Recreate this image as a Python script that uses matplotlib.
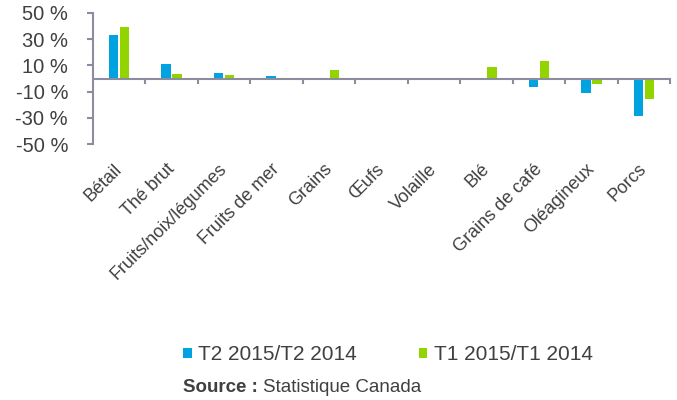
import matplotlib
matplotlib.use("Agg")
import matplotlib.pyplot as plt
import numpy as np

categories = ["Bétail", "Thé brut", "Fruits/noix/légumes", "Fruits de mer", "Grains",
              "Œufs", "Volaille", "Blé", "Grains de café", "Oléagineux", "Porcs"]
t2_2015 = [33, 11, 4, 2, 0, 0, -1.5, -1.5, -6.5, -11, -28.5]
t1_2015 = [39.5, 3.5, 2.3, 0.3, 6.5, -0.5, 0.3, 9, 13, -4.5, -15.5]
yticks = [50, 30, 10, -10, -30, -50]
ytick_labels = ["50 %", "30 %", "10 %", "-10 %", "-30 %", "-50 %"]

plt.rcParams['font.family'] = ['Liberation Sans', 'DejaVu Sans']
txt = "#404040"
axc = "#8c8ca0"
blue = "#00a3e0"
green = "#92d400"

fig = plt.figure(figsize=(6.77, 4.0), dpi=100)
ax = fig.add_axes([93/677, 1-144/400, (670-93)/677, (144-13)/400])

x = np.arange(len(categories))
w = 0.18
ax.bar(x - 0.105, t2_2015, width=w, color=blue, label="T2 2015/T2 2014", zorder=2)
ax.bar(x + 0.105, t1_2015, width=w, color=green, label="T1 2015/T1 2014", zorder=2)

ax.set_xlim(-0.5, len(categories) - 0.5)
ax.set_ylim(-50, 50)
ax.set_yticks(yticks)
ax.set_yticklabels(ytick_labels, fontsize=14.5, color=txt)

for s in ["top", "right", "bottom"]:
    ax.spines[s].set_visible(False)
ax.spines["left"].set_color(axc)
ax.spines["left"].set_linewidth(1.5)
ax.axhline(0, color=axc, lw=1.5, zorder=3)
ax.tick_params(axis="y", length=4, width=1.5, color=axc, pad=14)

# x ticks at category boundaries on the zero line
ax.set_xticks([])
for b in np.arange(0.5, len(categories), 1.0):
    ax.plot([b, b], [0, -3.5], color=axc, lw=1.5, zorder=3, clip_on=False)

for i, c in enumerate(categories):
    ax.annotate(c, xy=(i, -50), xycoords="data", xytext=(-4, -12), textcoords="offset points",
                rotation=45, ha="right", va="top", rotation_mode="anchor",
                fontsize=13, color=txt, annotation_clip=False)

handles, labels = ax.get_legend_handles_labels()
leg = fig.legend(handles, labels, loc="center", bbox_to_anchor=(388/677, 1-355/400), ncol=2,
                 frameon=False, fontsize=15, handlelength=0.4, handleheight=0.4,
                 handletextpad=0.3, columnspacing=3.0)
for t in leg.get_texts():
    t.set_color(txt)

fig.canvas.draw()
t1 = fig.text(183/677, 1-388/400, "Source :", fontsize=13.5, fontweight="bold", color=txt, va="center")
bb = t1.get_window_extent(renderer=fig.canvas.get_renderer())
fig.text((bb.x1 + 5)/677, 1-388/400, "Statistique Canada", fontsize=13.5, color=txt, va="center")

fig.savefig("out.png", dpi=100)
